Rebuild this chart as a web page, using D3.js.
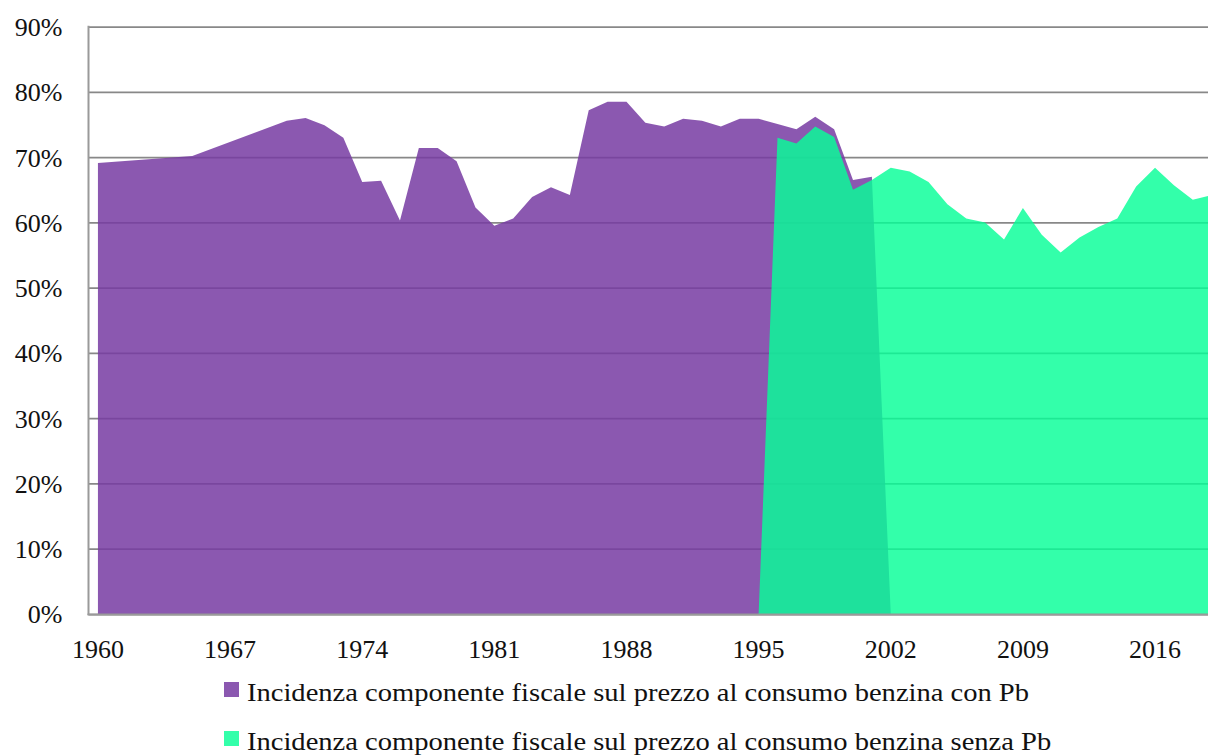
<!DOCTYPE html>
<html>
<head>
<meta charset="utf-8">
<script src="https://cdn.jsdelivr.net/npm/d3@7"></script>
<style>
  html, body { margin: 0; padding: 0; background: #ffffff; }
  svg { display: block; }
</style>
</head>
<body>
<svg id="chart" width="1208" height="756"></svg>
<script>
// ---- data ----
const years = [1960,1961,1962,1963,1964,1965,1966,1967,1968,1969,
               1970,1971,1972,1973,1974,1975,1976,1977,1978,1979,
               1980,1981,1982,1983,1984,1985,1986,1987,1988,1989,
               1990,1991,1992,1993,1994,1995,1996,1997,1998,1999,
               2000,2001,2002,2003,2004,2005,2006,2007,2008,2009,
               2010,2011,2012,2013,2014,2015,2016,2017,2018,2019];

// Incidenza componente fiscale (%) – benzina con Pb
const conPb = [69.1,null,null,null,null,70.2,null,null,null,null,
               75.6,76.0,74.9,73.0,66.2,66.4,60.3,71.4,71.4,69.4,
               62.3,59.5,60.6,63.9,65.4,64.2,77.2,78.5,78.5,75.3,
               74.7,75.9,75.6,74.7,75.9,75.9,75.1,74.3,76.2,74.3,
               66.5,67.0,0,null,null,null,null,null,null,null,
               null,null,null,null,null,null,null,null,null,null];

// Incidenza componente fiscale (%) – benzina senza Pb
const senzaPb = [null,null,null,null,null,null,null,null,null,null,
                 null,null,null,null,null,null,null,null,null,null,
                 null,null,null,null,null,null,null,null,null,null,
                 null,null,null,null,null,0,73.0,72.1,74.7,73.1,
                 65.0,66.5,68.4,67.8,66.2,62.8,60.6,60.0,57.4,62.2,
                 58.1,55.4,57.7,59.3,60.6,65.5,68.4,65.7,63.5,64.2];

const yTicks = [0,10,20,30,40,50,60,70,80,90];
const xTickLabels = [1960,1967,1974,1981,1988,1995,2002,2009,2016];

const seriesNames = [
  "Incidenza componente fiscale sul prezzo al consumo benzina con Pb",
  "Incidenza componente fiscale sul prezzo al consumo benzina senza Pb"
];

// ---- layout ----
const svg = d3.select("#chart");
const pLeft = 88.5, pRight = 1221.1, pTop = 26.7, pBottom = 614;
const FONT = "'Liberation Serif', 'Times New Roman', serif";

const x = d3.scaleBand().domain(years).range([pLeft, pRight]).padding(0);
const xc = yr => x(yr) + x.bandwidth() / 2;
const y = d3.scaleLinear().domain([0, 90]).range([pBottom, pTop]);

// gridlines
const grid = svg.append("g")
  .attr("transform", `translate(${pLeft},0)`)
  .call(d3.axisLeft(y).tickValues(yTicks).tickSize(-(pRight - pLeft)).tickFormat(""));
grid.select(".domain").remove();
grid.selectAll(".tick line").attr("stroke", "#888888").attr("stroke-width", 1.75);

// areas
const area = d3.area()
  .x(d => xc(d.year))
  .y0(y(0))
  .y1(d => y(d.v));

const purpleData = years.map((yr, i) => ({year: yr, v: conPb[i]})).filter(d => d.v != null);
const greenData  = years.map((yr, i) => ({year: yr, v: senzaPb[i]})).filter(d => d.v != null);

svg.append("path").datum(purpleData)
  .attr("d", area)
  .attr("fill", "rgb(119,59,162)")
  .attr("fill-opacity", 0.85);

svg.append("path").datum(greenData)
  .attr("d", area)
  .attr("fill", "rgb(6,255,151)")
  .attr("fill-opacity", 0.82);

// y axis labels
const yAx = svg.append("g")
  .attr("transform", `translate(${pLeft},0)`)
  .call(d3.axisLeft(y).tickValues(yTicks).tickSize(0).tickPadding(26).tickFormat(d => d + "%"));
yAx.select(".domain").remove();
yAx.selectAll("text")
  .attr("font-family", FONT).attr("font-size", 26).attr("fill", "#111")
  .attr("dy", "0.34em");

// x axis labels
const xAx = svg.append("g")
  .attr("transform", `translate(0,${pBottom})`)
  .call(d3.axisBottom(x).tickValues(xTickLabels).tickSize(0).tickPadding(25.5));
xAx.select(".domain").remove();
xAx.selectAll("text")
  .attr("font-family", FONT).attr("font-size", 26).attr("fill", "#111");

// axis lines
svg.append("line")
  .attr("x1", pLeft).attr("x2", pLeft).attr("y1", pTop - 1).attr("y2", pBottom + 1)
  .attr("stroke", "#9a9a9a").attr("stroke-width", 2);
svg.append("line")
  .attr("x1", pLeft - 1).attr("x2", pRight).attr("y1", pBottom + 0.5).attr("y2", pBottom + 0.5)
  .attr("stroke", "#9a9a9a").attr("stroke-width", 2);

// legend
const legendColors = ["rgb(139,88,176)", "rgb(51,255,170)"];
const legendRows = [{sq: 682, base: 701}, {sq: 731, base: 749.5}];
const lg = svg.append("g");
const texts = [];
seriesNames.forEach((name, i) => {
  lg.append("rect")
    .attr("x", 224).attr("y", legendRows[i].sq)
    .attr("width", 15).attr("height", 15)
    .attr("fill", legendColors[i]);
  const t = lg.append("text")
    .attr("x", 247).attr("y", legendRows[i].base)
    .attr("font-family", FONT).attr("font-size", 25).attr("fill", "#111")
    .text(name);
  texts.push(t);
});
// match reference text width (row 1 spans ~247..1029)
const w0 = texts[0].node().getComputedTextLength();
const s = 782 / w0;
texts.forEach(t => {
  const w = t.node().getComputedTextLength();
  t.attr("textLength", w * s).attr("lengthAdjust", "spacingAndGlyphs");
});
</script>
</body>
</html>
